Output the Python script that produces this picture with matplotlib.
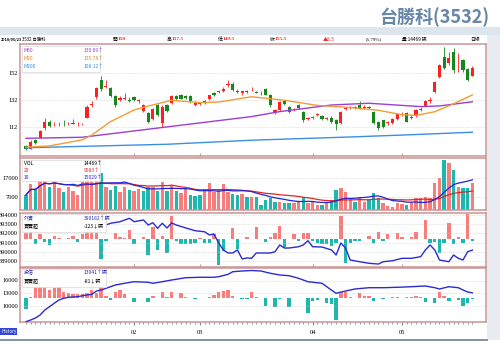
import matplotlib
matplotlib.use('Agg')
import matplotlib.pyplot as plt
from matplotlib.patches import Rectangle
import numpy as np
import pandas as pd

plt.rcParams['font.family'] = ['Noto Sans CJK TC', 'DejaVu Sans']

# ---- data (one entry per trading day, 2018/01 - 2018/05/23) ----
opens = [98, 96, 102, 104, 111, 116, 114, 114, 114.5, 114,
         115, 114, 114, 119, 128.5, 134, 147, 142, 141, 135,
         132, 133, 132, 134, 131, 124, 122, 118, 128, 115,
         128, 130, 135, 135.5, 135, 135, 128, 129, 131, 133,
         137, 138, 139, 143, 144, 138, 137, 138.5, 140, 138,
         137.5, 140, 136, 122.5, 124.5, 131, 127, 125, 128, 123,
         118, 119, 121, 120, 118, 119, 117, 115, 125, 126,
         126.5, 128, 126, 126.5, 123, 116, 117, 115, 115, 118,
         121, 122, 119, 120, 124.5, 127.5, 131, 138, 149, 164,
         159.4, 167.5, 160, 161.5, 155, 150]
closes = [96, 101, 100, 109, 116, 113, 114.5, 114.5, 114, 114.5,
          114.5, 114.5, 114.5, 127, 129, 141, 140, 142.5, 135, 128,
          133.5, 133.5, 131.5, 132, 132, 128, 116, 125, 121, 127,
          124, 135, 133, 133, 133.5, 131, 130, 129.5, 130, 135.5,
          136, 138.5, 140.5, 143.5, 139.5, 138.5, 138.5, 138, 140.5, 137.5,
          137, 136, 128, 124.5, 130.5, 129, 123, 125.5, 126, 117,
          118.5, 119.5, 121, 118, 118.5, 115.5, 114, 123, 126, 126.5,
          126, 126, 126.5, 126, 115, 111, 112, 115.5, 118, 121.5,
          121.5, 116, 119.5, 124.5, 125, 131, 132, 145, 158, 155.7,
          163, 154, 160, 154, 147, 155.5]
highs = [99, 102, 103, 110, 119, 117, 116, 115.5, 117, 115.5,
         118, 116, 115, 128, 131, 142, 150, 147, 142, 136,
         135, 137, 134, 135, 133, 129, 123, 126, 129, 128,
         129, 136, 136, 136.5, 136, 135.5, 131, 130.5, 132, 136,
         138, 139.5, 141.5, 147, 145, 140, 139, 139.5, 141.5, 139,
         138.5, 141, 136.5, 125.5, 131, 132, 127.5, 126, 129, 124,
         119.5, 120.5, 122.5, 121, 119.5, 120, 118, 123.5, 127, 127.5,
         127.5, 131, 128, 127.5, 123.5, 116.5, 117.5, 116.5, 118.5, 122,
         123, 123, 121, 125, 126.5, 132, 134, 146, 159, 171,
         167.6, 170.5, 166.8, 162.5, 156, 157.5]
lows = [95, 95.5, 99.5, 103.5, 110, 112, 113, 113, 113, 113.5,
        114, 113, 113.5, 118.5, 127, 133, 139, 141, 134, 127,
        131, 132, 130.5, 131, 130, 123, 115, 117, 120, 112,
        123, 129, 132, 132.5, 133, 130, 127.5, 128, 129, 132,
        135, 137, 138, 142, 139, 137, 136, 137, 139, 137,
        136, 135.5, 127, 121.5, 124, 128.5, 122, 124, 125, 116,
        117, 118, 120, 117, 117.5, 115, 110, 114.5, 124.5, 125.5,
        125, 125.5, 125.5, 125, 114, 110, 111.5, 113.5, 114, 117.5,
        120, 115.5, 118, 119.5, 123.5, 127, 130, 137, 148, 155,
        158, 152, 152.7, 153, 146, 149.5]

# price moving averages (day index, value)
ma20_idx = [0, 5, 12, 14, 18, 23, 26, 31, 37, 41, 48, 55, 62, 69, 75, 80, 83, 87, 91, 95]
ma20_val = [97, 98, 102.5, 106, 116, 124.6, 127.5, 131.8, 130, 130.5,
            134.4, 131.8, 128, 126.4, 124.4, 121.1, 120.6, 123.3, 129.2, 135.78]
ma60_idx = [0, 12, 48, 54, 65, 73, 84, 88, 95]
ma60_val = [103.6, 104.4, 119.7, 123.4, 128.3, 129.6, 127.1, 127.6, 130.69]
ma200_idx = [0, 30, 48, 69, 80, 95]
ma200_val = [96.6, 99.2, 102.2, 104.6, 106, 108.12]

volume = [7900, 13900, 11000, 18800, 19700, 12400, 17000, 11600, 9700, 12400,
          10100, 7900, 18400, 19700, 16100, 17500, 19700, 12100, 10600, 13000,
          9700, 12400, 10600, 10100, 11200, 10100, 12100, 12400, 10100, 15100,
          10100, 13400, 10100, 8800, 11000, 7900, 7400, 7900, 11000, 14600,
          9700, 11000, 13700, 9700, 8500, 7900, 8200, 7000,
          7000, 7000, 2500, 5200, 6100, 4300, 4300, 3400, 3400, 3400,
          4300, 7000, 3400, 4300, 2500, 2500, 4300, 5000, 10600, 11900,
          9700, 6100, 4300, 7000, 4300, 5200, 8800, 6100, 3400, 2100,
          1600, 3400, 2900, 2500, 4000, 6500, 6100, 7000, 6500, 14300,
          17000, 26900, 25100, 21500, 12400, 11600, 11600, 14469]

# foreign investors: net buy (bars) and holdings (line)
fi_net = [600, 870, -500, 500, -300, -570, 370, 150, 0, 100,
          370, -300, 500, 700, 700, 870, -1970, -130, 0, 670,
          200, 170, 930, -500, 0, 270, -1570, 1200, -1070, 330,
          -1330, 2330, -200, -470, -470, -470, -330, 100, -330, -400,
          530, -2570, -1130, 0, 1100, -1000, 0, 270,
          0, 1270, 50, -230, 270, 600, 1330, -800, 0, 530,
          -130, 600, 600, -200, -400, -500, -500, -670, -400, 2330,
          -2400, -400, -130, -130, 0, 370, -330, 770, -130, 530,
          0, 600, 270, 0, 270, 770, 0, 1930, -400, -300,
          -1400, -330, 1600, -500, 270, -400, 2530, -123]
fi_hold_idx = [17, 18, 20, 22, 23, 25, 26, 27, 28, 29, 30, 31, 32, 34, 36, 38, 39, 40,
               41, 42, 43, 44, 45, 46, 47, 48, 49, 52, 53, 54, 55, 56, 58, 59, 60, 61,
               63, 65, 66, 67, 68, 69, 71, 73, 75, 76, 78, 80, 82, 84, 85, 86, 87, 88,
               90, 91, 92, 93, 94, 95]
fi_hold = [392910, 393100, 393270, 393640, 393270, 393460, 392910, 393160, 392550, 393100,
           392590, 393130, 392910, 392590, 392290, 392180, 391830, 391940, 390960, 390200,
           389870, 389870, 390200, 389220, 389330, 389290, 389870, 389870, 390010, 390740,
           390410, 390410, 390550, 390740, 391210, 390550, 390520, 390200, 389650, 390960,
           390410, 389110, 388920, 388750, 388670, 388920, 389030, 389290, 389290, 389470,
           390200, 390740, 390200, 389110, 388920, 389650, 389290, 389110, 390010, 390182]

# investment trusts: net buy (bars) and holdings (line)
it_net = [-880, 80, 930, 930, 930, 670, 800, 930, 530, 400,
          350, 350, 320, 400, 670, 400, 930, 210, -130, 530,
          670, 350, 0, -320, 0, 60, -270, 210, 0, 530,
          130, 530, 0, 400, 130, 0, -80, 0, 0, 80,
          270, 480, 560, 670, 210, 0, -80, -80,
          480, 80, 0, -590, 0, -670, -80, 0, -670, 0,
          50, 0, -1200, -210, -130, 0, -400, -480, -1730, 480,
          530, 130, 0, 400, 210, 190, -210, 0, -80, 0,
          80, 130, 0, 80, 80, 190, 80, -320, 0, -400,
          480, 210, -190, 0, -100, -590, -400, -81]
it_hold_idx = [0, 1, 2, 3, 4, 5, 6, 7, 8, 9, 11, 12, 14, 15, 16, 18, 19, 21, 23, 26,
               27, 29, 31, 34, 37, 40, 41, 43, 44, 46, 48, 50, 52, 54, 56, 58, 60, 63,
               64, 65, 66, 68, 70, 73, 76, 79, 82, 85, 87, 88, 90, 92, 93, 94, 95]
it_hold = [6120, 6520, 7000, 7720, 8920, 9710, 10530, 11320, 11730, 11970, 12110, 12350,
           12690, 13480, 13720, 14510, 14920, 15330, 15710, 15570, 15330, 15710, 16120,
           16670, 16770, 16770, 16910, 17490, 18110, 18280, 18400, 18280, 17730, 17320,
           17150, 16530, 15710, 15330, 14510, 13700, 12930, 13480, 13960, 14270, 14270,
           14370, 14510, 14680, 14270, 13960, 14510, 14270, 13720, 13250, 13041]

month_idx = [23, 37, 61, 80]
month_lab = ['02', '03', '04', '05']

# ---- layout helpers (pixel boxes on a 500x354 canvas) ----
W, H = 500, 354


def px_box(x0, y0, x1, y1):
    return [x0 / W, 1 - y1 / H, (x1 - x0) / W, (y1 - y0) / H]


def ftext(x, y, s, **kw):
    kw.setdefault('va', 'center')
    fig.text(x / W, 1 - y / H, s, **kw)


def frect(x0, y0, x1, y1, **kw):
    fig.patches.append(Rectangle((x0 / W, 1 - y1 / H), (x1 - x0) / W, (y1 - y0) / H,
                                 transform=fig.transFigure, **kw))


RED, GREEN = '#ff1f1f', '#16881a'
VRED, VTEAL = '#f77c7c', '#1eb6ad'
BORDER = '#c99494'
SERIF = 'Liberation Serif'

n = len(closes)
idx = np.arange(n)
o, c, hi, lo = map(np.array, (opens, closes, highs, lows))
up = c >= o
# volume bars: red when the close is not below the previous close
prev_c = np.concatenate([[o[0]], c[:-1]])
vol_up = c >= prev_c
xlo, xhi = -1.28, 97.9

fig = plt.figure(figsize=(5, 3.54), dpi=100)
fig.patch.set_facecolor('white')

# background decoration
frect(0, 27, 500, 35, facecolor='#dde5ee', edgecolor='none', zorder=0)
frect(487, 35, 500, 340, facecolor='#e8ebef', edgecolor='none', zorder=0)
fig.add_artist(plt.Line2D([0, 487 / W], [1 - 340 / H] * 2, color='#7d92a8', lw=1.4))
ftext(490, 17, '台勝科(3532)', ha='right', fontsize=13, color='#6787a8', fontweight='bold')

# info row
ftext(1, 39.5, '2018/05/23', fontsize=2.8, fontweight='bold')
ftext(22, 39.5, '3532 台勝科', fontsize=3.2)
for xl, lab, val, col in [(113, '開', '150', RED), (167, '高', '157.5', RED),
                          (218, '低', '149.5', RED), (270, '收', '155.5', RED)]:
    ftext(xl, 39.5, lab, fontsize=3.5)
    ftext(xl + 5, 39.5, val, fontsize=3.8, color=col, fontweight='bold', family=SERIF)
ftext(323, 39.5, '▲8.5', fontsize=3.6, color=RED)
ftext(366, 39.5, '(5.79%)', fontsize=3.6, family=SERIF)
ftext(402, 39.5, '量 14469 張', fontsize=3.4)
ftext(470, 39.5, '日線', fontsize=3.4)


def style_panel(ax, yt, ylab):
    ax.set_xlim(xlo, xhi)
    for sp in ax.spines.values():
        sp.set_color(BORDER)
        sp.set_linewidth(1.1)
    ax.set_yticks(yt)
    ax.set_yticklabels(ylab, fontsize=4.6, family=SERIF)
    ax.tick_params(axis='y', length=0, pad=1.5)
    ax.set_xticks(month_idx)
    ax.tick_params(axis='x', direction='in', length=2.5, color=BORDER, labelbottom=False)
    for v in yt:
        ax.axhline(v, color='#c8c8c8', lw=0.5, ls=(0, (1, 1.5)), zorder=0)


def legend_box(x0, y0, x1, y1, rows):
    frect(x0, y0, x1, y1, facecolor='white', edgecolor='#d8d8d8', lw=0.5, zorder=5)
    for (yy, lab, lcol, val, vcol) in rows:
        ftext(x0 + 2, yy, lab, fontsize=3.6, color=lcol, zorder=6)
        ftext(x0 + 62, yy, val, fontsize=3.6, color=vcol, zorder=6)


# ---- panel 1: candles ----
ax1 = fig.add_axes(px_box(20, 44, 486, 156))
ax1.set_ylim(90.5, 173.5)
style_panel(ax1, [112, 132, 152], ['112', '132', '152'])
ccol = np.where(up, RED, GREEN)
ax1.vlines(idx, lo, hi, colors=ccol, lw=0.6, zorder=2)
body = np.maximum(np.abs(c - o), 0.35)
ax1.bar(idx, body, bottom=np.minimum(o, c), width=0.68, color=ccol, zorder=3)
ax1.plot(ma200_idx, ma200_val, color='#3b8fe3', lw=1.0, zorder=4)
ax1.plot(ma60_idx, ma60_val, color='#9b3fd6', lw=1.0, zorder=4)
ax1.plot(ma20_idx, ma20_val, color='#f39c33', lw=1.0, zorder=4)
legend_box(22, 46, 100, 72, [(50, 'M60', '#9b3fd6', '130.69↑', '#9b3fd6'),
                             (58, 'M20', '#e08a20', '135.78↑', '#e08a20'),
                             (66, 'M200', '#3b8fe3', '108.12↑', '#3b8fe3')])

# ---- panel 2: volume ----
ax2 = fig.add_axes(px_box(20, 158, 486, 209.6))
ax2.set_ylim(0, 27900)
style_panel(ax2, [7000, 17000], ['7000', '17000'])
vol = pd.Series(volume)
ax2.bar(idx, vol, width=0.72, color=np.where(vol_up, VRED, VTEAL), zorder=2)
ax2.plot(idx, vol.rolling(20, min_periods=1).mean(), color='#e02525', lw=0.9, zorder=3)
ax2.plot(idx, vol.rolling(10, min_periods=1).mean(), color='#2323d9', lw=0.9, zorder=3)
legend_box(22, 160, 100, 181, [(163.5, 'VOL', 'black', '14469↑', 'black'),
                               (170.5, '20', '#e02525', '9583↑', '#e02525'),
                               (177.5, '10', '#2323d9', '15029↑', '#2323d9')])


def flow_panel(y0, y1, net, bar_lim, hold_i, hold_v, hold_lim, yt, title, hv, nv):
    ax = fig.add_axes(px_box(20, y0, 486, y1))
    ax.set_ylim(*hold_lim)
    style_panel(ax, yt, [str(v) for v in yt])
    axb = ax.twinx()
    axb.set_ylim(*bar_lim)
    axb.set_xlim(xlo, xhi)
    net = np.array(net)
    axb.bar(idx, net, width=0.72, color=np.where(net >= 0, VRED, VTEAL))
    axb.axis('off')
    ax.plot(hold_i, hold_v, color='#2b2bd0', lw=1.0, zorder=3)
    ax.set_zorder(axb.get_zorder() + 1)
    ax.patch.set_visible(False)
    legend_box(22, y0 + 1, 106, y0 + 19, [(y0 + 5, title, '#2b2bb0', hv, '#2b2bb0'),
                                         (y0 + 13, '買賣超', 'black', nv, 'black')])
    return ax


ax3 = flow_panel(213, 266.7, fi_net, (-2740, 2630), fi_hold_idx, fi_hold, (388380, 394217),
                 [389000, 390000, 391000, 392000, 393000, 394000], '外資', '390182↑張', '-123↓張')
ax4 = flow_panel(268, 321.7, it_net, (-1872, 2424), it_hold_idx, it_hold, (6112, 19000),
                 [10000, 13000, 16000], '投信', '13041↑張', '-81↓張')

# bottom axis: a small tick per day, month labels
ax4.set_xticks(idx, minor=True)
ax4.tick_params(axis='x', which='minor', direction='out', length=1.5, color='#888888')
ax4.tick_params(axis='x', which='major', direction='out', length=2, color='#888888',
                labelbottom=True, labelsize=4.6, pad=4)
ax4.set_xticklabels(month_lab, family=SERIF)

ftext(1, 331.5, 'History', fontsize=3.2, color='white',
      bbox=dict(boxstyle='square,pad=0.15', facecolor='#3346d6', edgecolor='none'))

fig.savefig('out.png', dpi=100)
